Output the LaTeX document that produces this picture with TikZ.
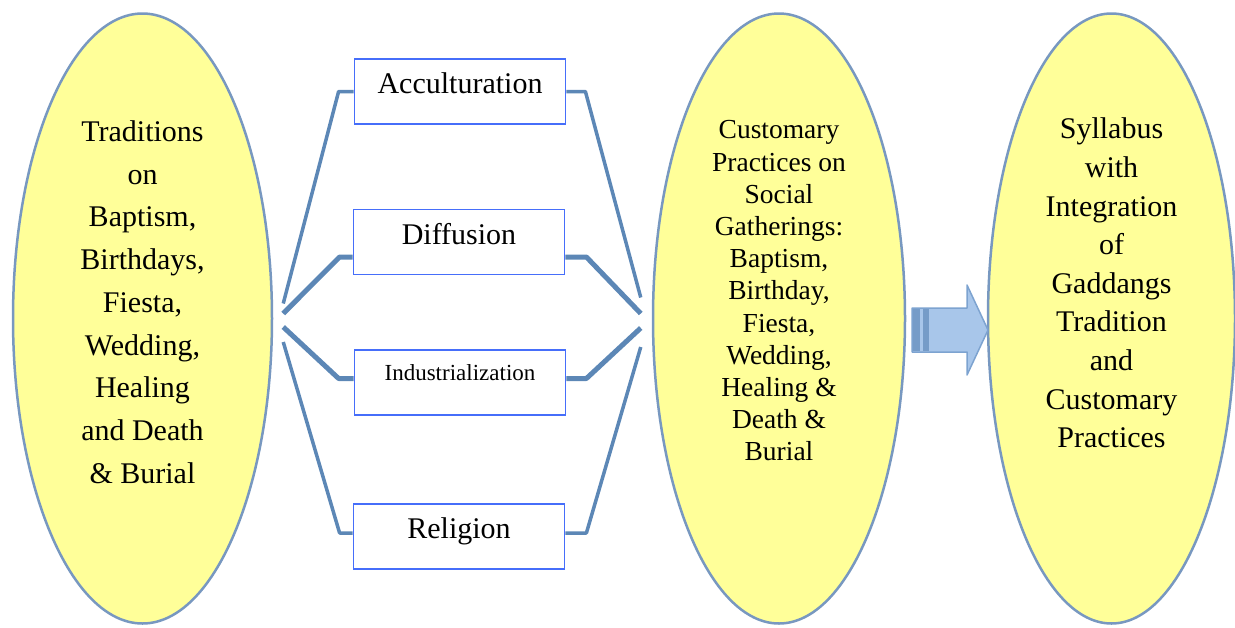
\documentclass[tikz,border=0pt]{standalone}
\usepackage{fontspec}
\setmainfont{Liberation Serif}[Ligatures=TeX]
\newfontfamily\timesfont{Liberation Serif}
\usetikzlibrary{shapes.geometric}

\definecolor{ellfill}{RGB}{255,255,153}
\definecolor{ellline}{RGB}{120,152,192}
\definecolor{linkblue}{RGB}{92,135,182}
\definecolor{boxline}{RGB}{70,110,250}
\definecolor{arrfill}{RGB}{168,198,234}
\definecolor{arrline}{RGB}{125,163,208}
\definecolor{arrdark}{RGB}{118,156,200}

\begin{document}
\begin{tikzpicture}[x=1pt, y=-1pt,
    oval/.style={ellipse, draw=ellline, line width=2.5pt, fill=ellfill, minimum height=610pt},
    box/.style={draw=boxline, line width=1.8pt, fill=white, minimum width=211pt, minimum height=65pt,
        inner sep=2pt, text height=24pt, text depth=20pt, font=\timesfont\fontsize{30}{36}\selectfont},
    link/.style={draw=linkblue, line width=#1, line join=round},
    link/.default=3.5pt]
    \useasboundingbox (0,0) rectangle (1235,627);

    \node[oval, minimum width=259pt] (trad) at (142.5,318.5) {};
    \node[oval, minimum width=252pt] (cust) at (779,318.5) {};
    \node[oval, minimum width=247pt] (syl) at (1111.5,318.5) {};

    \node[align=center, font=\timesfont\fontsize{30}{42.75}\selectfont] (tradtxt) at (142.5,302)
        {Traditions\\on\\Baptism,\\Birthdays,\\Fiesta,\\Wedding,\\Healing\\and Death\\\& Burial};
    \node[align=center, font=\timesfont\fontsize{27.5}{32.2}\selectfont] (custtxt) at (779,291)
        {Customary\\Practices on\\Social\\Gatherings:\\Baptism,\\Birthday,\\Fiesta,\\Wedding,\\Healing \&\\Death \&\\Burial};
    \node[align=center, font=\timesfont\fontsize{30}{38.6}\selectfont] (syltxt) at (1111.5,283)
        {Syllabus\\with\\Integration\\of\\Gaddangs\\Tradition\\and\\Customary\\Practices};

    \node[box] (acc) at (460,91.5) {Acculturation};
    \node[box] (dif) at (459,242) {Diffusion};
    \node[box, text height=20pt, text depth=25pt, font=\timesfont\fontsize{23}{28}\selectfont] (ind) at (460,382.5) {Industrialization};
    \node[box] (rel) at (459,536.5) {Religion};

    % left side
    \draw[link] ([xshift=10pt,yshift=15pt]trad.east) -- ([xshift=-15pt]acc.west) -- (acc.west);
    \draw[link=5pt] ([xshift=10pt,yshift=5pt]trad.east) -- ([xshift=-13pt,yshift=-15pt]dif.west) -- ([yshift=-15pt]dif.west);
    \draw[link=5pt] ([xshift=10pt,yshift=-8.5pt]trad.east) -- ([xshift=-15pt,yshift=4pt]ind.west) -- ([yshift=4pt]ind.west);
    \draw[link] ([xshift=10pt,yshift=-23.5pt]trad.east) -- ([xshift=-13pt,yshift=3.5pt]rel.west) -- ([yshift=3.5pt]rel.west);

    % right side
    \draw[link] (acc.east) -- ([xshift=19pt]acc.east) -- ([xshift=-11pt,yshift=21pt]cust.west);
    \draw[link=5pt] ([yshift=-15pt]dif.east) -- ([xshift=21pt,yshift=-15pt]dif.east) -- ([xshift=-11pt,yshift=5pt]cust.west);
    \draw[link=5pt] ([yshift=4pt]ind.east) -- ([xshift=20pt,yshift=4pt]ind.east) -- ([xshift=-11pt,yshift=-9.5pt]cust.west);
    \draw[link] ([yshift=3.5pt]rel.east) -- ([xshift=21pt,yshift=3.5pt]rel.east) -- ([xshift=-11pt,yshift=-28.5pt]cust.west);

    % block arrow
    \draw[arrline, fill=arrfill, line width=1.5pt, line join=round]
        (912,308) -- (967,308) -- (967,285) -- (988,330) -- (967,375) -- (967,352) -- (912,352) -- cycle;
    \fill[arrdark] (913,309) rectangle (920,351);
    \fill[arrdark] (923,309) rectangle (929,351);
\end{tikzpicture}
\end{document}
